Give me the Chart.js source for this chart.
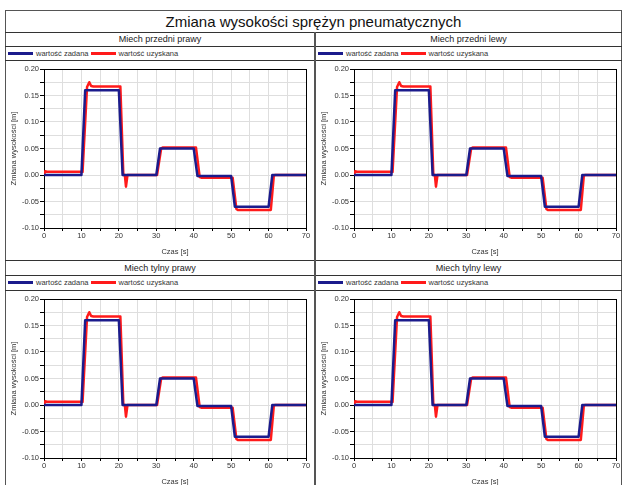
<!DOCTYPE html>
<html lang="pl">
<head>
<meta charset="utf-8">
<title>Zmiana wysokości sprężyn pneumatycznych</title>
<script src="https://cdn.jsdelivr.net/npm/chart.js@4.4.1/dist/chart.umd.min.js"></script>
<style>
  html, body { margin: 0; padding: 0; background: #fff; }
  body { width: 624px; height: 485px; overflow: hidden; position: relative;
         font-family: 'Liberation Sans', Arial, sans-serif; color: #222; }
  .hline { position: absolute; height: 0; border-top: 1px solid #333; z-index: 2; }
  .vline { position: absolute; width: 0; border-left: 2px solid #555; z-index: 2; }
  .frame { position: absolute; left: 5px; top: 10px; width: 617px; height: 500px;
           border: 1px solid #555; box-sizing: border-box; z-index: 2; }
  .title { position: absolute; left: 5px; width: 617px; top: 10px; height: 22px; line-height: 23px;
           text-align: center; font-size: 15px; color: #111; }
  .ptitle { position: absolute; text-align: center; font-size: 9px; color: #222; }
  .legend { position: absolute; font-size: 7.5px; color: #333; white-space: nowrap;
            display: flex; align-items: center; }
  .legend .sw { display: inline-block; width: 25px; height: 3px; }
  canvas { position: absolute; z-index: 1; }
</style>
</head>
<body>
<div class="frame"></div>
<div class="title">Zmiana wysokości sprężyn pneumatycznych</div>
<script>
// Tytuły czterech paneli (kolejność: lewy górny, prawy górny, lewy dolny, prawy dolny)
const tytulyPaneli = ['Miech przedni prawy', 'Miech przedni lewy', 'Miech tylny prawy', 'Miech tylny lewy'];
const nazwySerii = ['wartość zadana', 'wartość uzyskana'];
const kolorySerii = ['#1b1b8c', '#ff1a1a'];

// Wartość zadana [m] w funkcji czasu [s]
const czasZadana = [0, 10, 11, 20, 21, 30, 31, 40, 41, 50, 51, 60, 61, 70];
const wartoscZadana = [0, 0, 0.16, 0.16, 0, 0, 0.05, 0.05, -0.002, -0.002, -0.06, -0.06, 0, 0];

// Wartość uzyskana [m] w funkcji czasu [s]
const czasUzyskana = [0, 0.3, 0.8, 10.3, 11.5, 12.1, 12.6, 13.2, 20.4, 21.2, 21.6, 21.9, 22.3,
                      30.2, 31.3, 31.7, 40.6, 41.6, 42.0, 50.4, 51.4, 51.8, 60.6, 61.4, 61.8, 70];
const wartoscUzyskana = [0, 0.007, 0.006, 0.006, 0.166, 0.175, 0.168, 0.167, 0.167, 0.0, 0.0, -0.022, 0.0,
                         0, 0.05, 0.052, 0.052, -0.004, -0.005, -0.005, -0.064, -0.066, -0.066, -0.001, 0, 0];

// Osie
const zakresCzasu = [0, 70];
const krokCzasu = 5;
const zakresWysokosci = [-0.10, 0.20];
const krokWysokosci = 0.025;
const tytulOsiX = 'Czas [s]';
const tytulOsiY = 'Zmiana wysokości [m]';

Chart.defaults.font.family = "'Liberation Sans', Arial, sans-serif";
Chart.defaults.font.size = 7.5;
Chart.defaults.color = '#333';

const punkty = (xs, ys) => xs.map((x, i) => ({ x, y: ys[i] }));

// Czarna ramka wokół obszaru wykresu
const ramkaWykresu = {
  id: 'ramkaWykresu',
  beforeDatasetsDraw(chart) {
    const { ctx, chartArea: a } = chart;
    ctx.save();
    ctx.strokeStyle = '#000';
    ctx.lineWidth = 1;
    ctx.strokeRect(Math.round(a.left) + 0.5, Math.round(a.top) + 0.5,
                   Math.round(a.right - a.left), Math.round(a.bottom - a.top));
    ctx.restore();
  }
};

// Geometria paneli
const kolumny = [{ x: 5, w: 310 }, { x: 315, w: 307 }];
const wiersze = [
  { tytul: 32, legenda: 46, wykres: 60, hT: 14, hL: 14 },
  { tytul: 260, legenda: 275, wykres: 290, hT: 15, hL: 15 }
];

function linia(x, y, w) {
  const d = document.createElement('div');
  d.className = 'hline';
  d.style.left = x + 'px'; d.style.top = y + 'px'; d.style.width = w + 'px';
  document.body.appendChild(d);
}

// Poziome linie podziału
wiersze.forEach((r) => {
  linia(5, r.tytul, 617);
  linia(5, r.legenda, 617);
  linia(5, r.wykres, 617);
});
// Pionowa linia między kolumnami
const pion = document.createElement('div');
pion.className = 'vline';
pion.style.left = '314px'; pion.style.top = '32px'; pion.style.height = '460px';
document.body.appendChild(pion);

const stylLinii = { pointRadius: 0, tension: 0, borderWidth: 2.5,
                    borderJoinStyle: 'round', borderCapStyle: 'butt' };

tytulyPaneli.forEach((tytul, idx) => {
  const k = kolumny[idx % 2];
  const r = wiersze[Math.floor(idx / 2)];

  const t = document.createElement('div');
  t.className = 'ptitle';
  t.textContent = tytul;
  t.style.left = k.x + 'px'; t.style.width = k.w + 'px';
  t.style.top = r.tytul + 'px'; t.style.height = r.hT + 'px'; t.style.lineHeight = (r.hT + 1) + 'px';
  document.body.appendChild(t);

  const lg = document.createElement('div');
  lg.className = 'legend';
  lg.style.left = (k.x + 3) + 'px';
  lg.style.top = r.legenda + 'px'; lg.style.height = r.hL + 'px';
  nazwySerii.forEach((n, s) => {
    const sw = document.createElement('span');
    sw.className = 'sw';
    sw.style.background = kolorySerii[s];
    sw.style.marginLeft = s === 0 ? '0px' : '2px';
    const tx = document.createElement('span');
    tx.textContent = n;
    tx.style.marginLeft = '3px';
    lg.appendChild(sw); lg.appendChild(tx);
  });
  document.body.appendChild(lg);

  const c = document.createElement('canvas');
  const cw = 307, ch = 198;
  c.width = cw; c.height = ch;
  c.style.width = cw + 'px'; c.style.height = ch + 'px';
  c.style.left = (k.x + 1) + 'px';
  c.style.top = (r.wykres + 1) + 'px';
  document.body.appendChild(c);

  new Chart(c, {
    type: 'line',
    data: {
      datasets: [
        Object.assign({ label: nazwySerii[0], data: punkty(czasZadana, wartoscZadana),
                        borderColor: kolorySerii[0] }, stylLinii),
        Object.assign({ label: nazwySerii[1], data: punkty(czasUzyskana, wartoscUzyskana),
                        borderColor: kolorySerii[1] }, stylLinii)
      ]
    },
    options: {
      responsive: false,
      animation: false,
      events: [],
      layout: { padding: { top: 8, right: 7, left: 0, bottom: 0 } },
      plugins: { legend: { display: false }, tooltip: { enabled: false } },
      scales: {
        x: {
          type: 'linear', min: zakresCzasu[0], max: zakresCzasu[1],
          afterFit: (s) => { s.height = 31; },
          ticks: { stepSize: krokCzasu, autoSkip: false, maxRotation: 0, padding: 0,
                   color: '#333', font: { size: 7.5 },
                   callback: (v) => (v % 10 === 0 ? String(v) : '') },
          grid: { color: '#dedede', lineWidth: 1, tickColor: '#000', tickLength: 3 },
          border: { color: '#000', width: 1 },
          title: { display: true, text: tytulOsiX, color: '#333', font: { size: 7.5 },
                   padding: { top: 0, bottom: 3 } }
        },
        y: {
          type: 'linear', min: zakresWysokosci[0], max: zakresWysokosci[1],
          afterFit: (s) => { s.width = 38; },
          ticks: { stepSize: krokWysokosci, autoSkip: false, padding: 1,
                   color: '#333', font: { size: 7.5 },
                   callback: (v) => {
                     const m = Math.round(v * 1000);
                     return m % 50 === 0 ? (m / 1000).toFixed(2) : '';
                   } },
          grid: { color: '#dedede', lineWidth: 1, tickColor: '#000', tickLength: 4 },
          border: { color: '#000', width: 1 },
          title: { display: true, text: tytulOsiY, color: '#333', font: { size: 7.5 },
                   padding: { top: 3, bottom: 0 } }
        }
      }
    },
    plugins: [ramkaWykresu]
  });
});
</script>
</body>
</html>
